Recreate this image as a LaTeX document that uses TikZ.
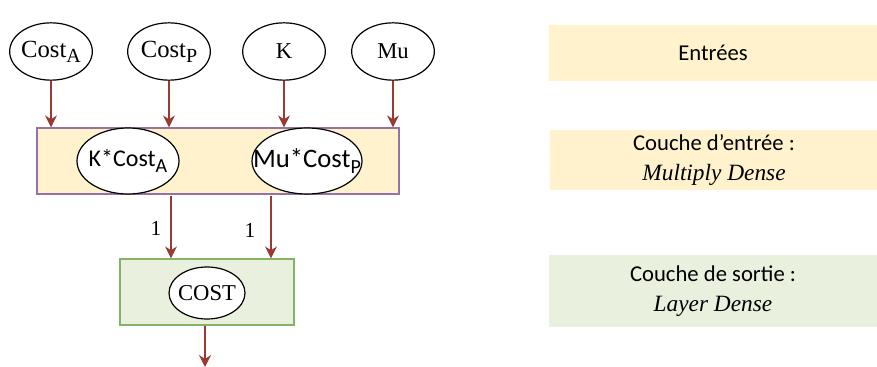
\documentclass[tikz,border=0pt]{standalone}
\usepackage{fontspec}
\setmainfont{Carlito}
\newfontfamily\serifrm{Liberation Serif}
\usetikzlibrary{shapes.geometric,arrows.meta}

\definecolor{arrowred}{RGB}{155,58,50}
\definecolor{layerpurple}{RGB}{150,115,166}
\definecolor{outgreen}{RGB}{130,179,102}
\definecolor{inyellow}{RGB}{255,242,204}
\definecolor{paleGreen}{RGB}{233,241,222}

\newcommand{\subidx}[1]{\raisebox{-0.45ex}{\fontsize{15}{15}\selectfont #1}}
\newcommand{\lbl}[1]{\makebox[0pt]{#1}}

\tikzset{
  inputnode/.style={ellipse, draw, line width=0.9pt, fill=white, inner sep=0pt,
    minimum width=62pt, minimum height=43pt, font=\serifrm\fontsize{17}{18}\selectfont},
  mulnode/.style={ellipse, draw, line width=0.9pt, fill=white, inner sep=0pt,
    minimum height=49.5pt},
  layerbox/.style={rectangle, draw=layerpurple, line width=0.9pt, fill=inyellow,
    minimum width=271.5pt, minimum height=49.5pt},
  outbox/.style={rectangle, draw=outgreen, line width=0.9pt, fill=paleGreen,
    minimum width=130.5pt, minimum height=49.5pt},
  legend/.style={rectangle, minimum width=246pt, align=center,
    font=\fontsize{17}{22}\selectfont},
  arrowflow/.style={draw=arrowred, line width=1.1pt, -{Stealth[length=9pt,width=9pt]}},
  weight/.style={font=\serifrm\fontsize{16}{18}\selectfont}
}

\begin{document}
\begin{tikzpicture}[x=0.75pt, y=-0.75pt]
    \useasboundingbox (0,0) rectangle (877,367);

    % Draw layers
    \node[layerbox] (inlayer) at (218,161) {};
    \node[outbox] (outlayer) at (207,292) {};

    % Draw nodes
    \node[inputnode, font=\serifrm\fontsize{18.5}{22}\selectfont] (costa) at (51,51.5) {\lbl{Cost\subidx{A}}};
    \node[inputnode, font=\serifrm\fontsize{18.5}{22}\selectfont] (costp) at (169,51.5) {\lbl{Cost\subidx{P}}};
    \node[inputnode] (k) at (284,51.5) {\lbl{K}};
    \node[inputnode] (mu) at (393,51.5) {\lbl{Mu}};

    \node[mulnode, minimum width=76.5pt, font=\fontsize{18}{22}\selectfont] (kcost) at (128,161) {\lbl{K*Cost\subidx{A}}};
    \node[mulnode, minimum width=82.5pt, font=\fontsize{20}{22}\selectfont] (mucost) at (307,161) {\lbl{Mu*Cost\subidx{P}}};

    \node[inputnode, minimum width=57pt, minimum height=39pt] (cost) at (207,293) {\lbl{COST}};

    % Draw connections
    \foreach \src in {costa, costp, k, mu}
      \draw[arrowflow] (\src) ++(0,30) -- (\src.south |- inlayer.north);

    \coordinate (w1) at (171,196);
    \coordinate (w2) at (271,196);
    \draw[arrowflow] (w1) -- (w1 |- outlayer.north);
    \draw[arrowflow] (w2) -- (w2 |- outlayer.north);
    \node[weight] (one1) at (156,228) {1};
    \node[weight] (one2) at (250,230) {1};

    \coordinate (result) at (205,367);
    \draw[arrowflow] (outlayer.south -| result) -- (result);

    % Labels
    \node[legend, fill=inyellow, minimum height=42pt] (lin) at (713,53) {Entrées};
    \node[legend, fill=inyellow, minimum height=42pt] (lmul) at (714,160)
      {Couche d'entrée :\\ {\serifrm\itshape\fontsize{17.5}{22}\selectfont Multiply Dense}};
    \node[legend, fill=paleGreen, minimum height=54pt] (lout) at (713,291)
      {Couche de sortie :\\ {\serifrm\itshape\fontsize{17.5}{22}\selectfont Layer Dense}};
\end{tikzpicture}
\end{document}
